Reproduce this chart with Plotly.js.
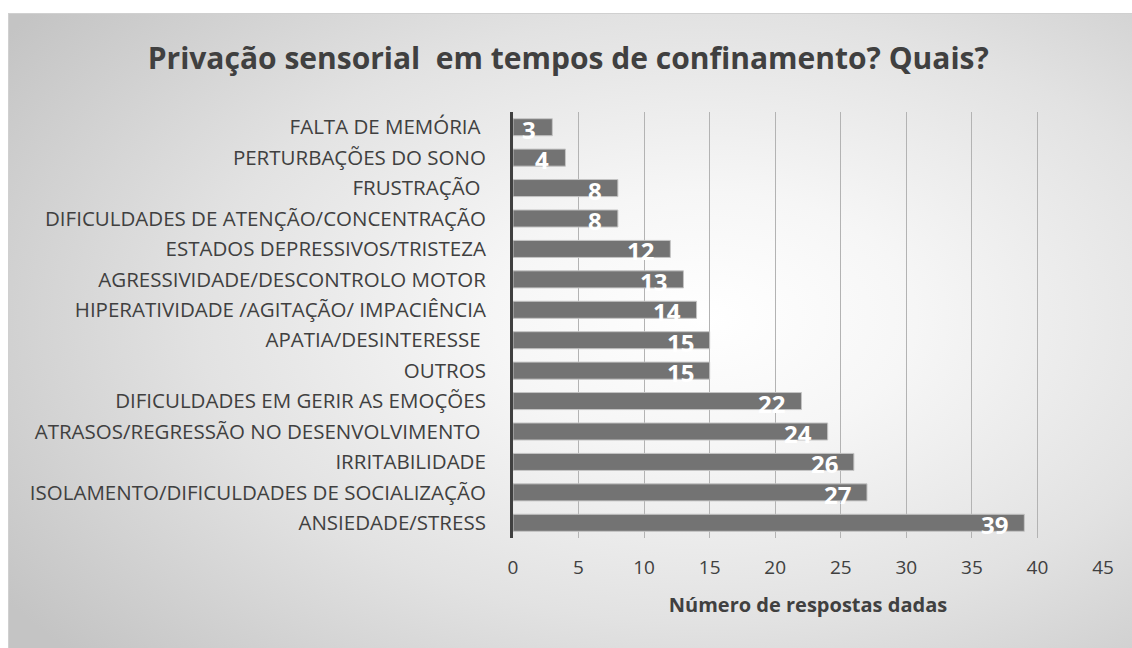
<!DOCTYPE html>
<html>
<head>
<meta charset="utf-8">
<script src="https://cdn.plot.ly/plotly-3.0.1.min.js"></script>
<style>
html,body{margin:0;padding:0;background:#ffffff;}
#bg{position:absolute;left:8px;top:13px;width:1124px;height:635px;box-sizing:border-box;border:1px solid #d0d0d0;border-right:none;border-bottom:none;
background:radial-gradient(ellipse 75% 80% at 62% 48%, #ffffff 0%, #f6f6f6 25%, #e2e2e2 60%, #c4c4c4 100%);}
#chart{position:absolute;left:0;top:0;width:1132px;height:648px;}
</style>
</head>
<body>
<div id="bg"></div>
<div id="chart"></div>
<script>
const categories = [
  "FALTA DE MEMÓRIA\u00a0",
  "PERTURBAÇÕES DO SONO",
  "FRUSTRAÇÃO\u00a0",
  "DIFICULDADES DE ATENÇÃO/CONCENTRAÇÃO",
  "ESTADOS DEPRESSIVOS/TRISTEZA",
  "AGRESSIVIDADE/DESCONTROLO MOTOR",
  "HIPERATIVIDADE /AGITAÇÃO/ IMPACIÊNCIA",
  "APATIA/DESINTERESSE\u00a0",
  "OUTROS",
  "DIFICULDADES EM GERIR AS EMOÇÕES",
  "ATRASOS/REGRESSÃO NO DESENVOLVIMENTO\u00a0",
  "IRRITABILIDADE",
  "ISOLAMENTO/DIFICULDADES DE SOCIALIZAÇÃO",
  "ANSIEDADE/STRESS"
];
const values = [3, 4, 8, 8, 12, 13, 14, 15, 15, 22, 24, 26, 27, 39];
const xTicks = [0, 5, 10, 15, 20, 25, 30, 35, 40, 45];

const fontFam = "'Open Sans', Lato, sans-serif";

const trace = {
  type: 'bar',
  orientation: 'h',
  y: categories,
  x: values,
  marker: {color: '#737373', line: {color: '#c4c4c4', width: 1}},
  hoverinfo: 'none'
};

const labels = values.map((v, i) => ({
  x: v, y: categories[i], xref: 'x', yref: 'y',
  text: String(v), showarrow: false,
  xanchor: 'right', yanchor: 'middle',
  xshift: -14, yshift: -2,
  font: {family: fontFam, size: 24, color: '#ffffff', weight: 'bold'}
}));

const layout = {
  width: 1132, height: 648,
  paper_bgcolor: 'rgba(0,0,0,0)',
  plot_bgcolor: 'rgba(0,0,0,0)',
  margin: {l: 513, r: 29, t: 112, b: 110},
  bargap: 0.44,
  showlegend: false,
  annotations: labels,
  title: {
    text: 'Privação sensorial\u00a0 em tempos de confinamento? Quais?',
    font: {family: fontFam, size: 30, color: '#404040', weight: 'bold'},
    x: 0.502, xanchor: 'center', y: 0.91, yanchor: 'middle'
  },
  xaxis: {
    range: [0, 45],
    tickvals: xTicks,
    ticktext: xTicks.map(String),
    showgrid: true, gridcolor: '#b3b3b3', gridwidth: 1,
    zeroline: false, showline: false,
    ticks: '', ticklabelstandoff: 16,
    tickfont: {family: fontFam, size: 19, color: '#404040'},
    title: {text: 'Número de respostas dadas', font: {family: fontFam, size: 20, color: '#404040', weight: 'bold'}, standoff: 18}
  },
  yaxis: {
    type: 'category',
    range: [categories.length - 0.5, -0.5],
    autorange: false,
    showline: true, linecolor: '#404040', linewidth: 3,
    showgrid: false, zeroline: false,
    ticks: '', ticklabelstandoff: 20,
    tickfont: {family: fontFam, size: 20.5, color: '#404040'}
  }
};

Plotly.newPlot('chart', [trace], layout, {staticPlot: true, displayModeBar: false});
</script>
</body>
</html>
